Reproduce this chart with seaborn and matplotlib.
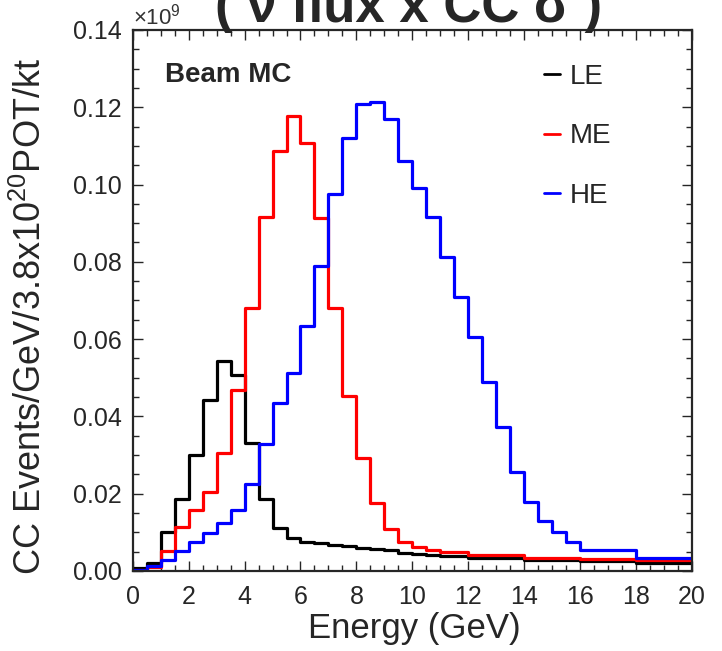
import numpy as np
import pandas as pd
import matplotlib
matplotlib.use("Agg")
import matplotlib.pyplot as plt
from matplotlib.ticker import MultipleLocator, FormatStrFormatter
from matplotlib.lines import Line2D
import seaborn as sns

# ---------------- data (values in units of 1e9) ----------------
le_edges = [0.0, 0.5, 1.0, 1.5, 2.0, 2.5, 3.0, 3.5, 4.0, 4.5, 5.0, 5.5, 6.0, 6.5,
            7.0, 7.5, 8.0, 8.5, 9.0, 9.5, 10.0, 10.5, 11.0, 12.0, 14.0, 16.0, 18.0, 20.0]
le_values = [0.0007, 0.0021, 0.0100, 0.0186, 0.0300, 0.0443, 0.0542, 0.0506, 0.0332,
             0.0186, 0.0112, 0.0085, 0.0076, 0.0072, 0.0067, 0.0065, 0.0059, 0.0058,
             0.0053, 0.0047, 0.0044, 0.0041, 0.0039, 0.0033, 0.0028, 0.0026, 0.0020]

me_edges = [0.0, 0.5, 1.0, 1.5, 2.0, 2.5, 3.0, 3.5, 4.0, 4.5, 5.0, 5.5, 6.0, 6.5,
            7.0, 7.5, 8.0, 8.5, 9.0, 9.5, 10.0, 10.5, 11.0, 12.0, 14.0, 16.0, 18.0, 20.0]
me_values = [0.0003, 0.0010, 0.0052, 0.0113, 0.0158, 0.0205, 0.0305, 0.0467, 0.0680,
             0.0917, 0.1087, 0.1178, 0.1107, 0.0913, 0.0680, 0.0452, 0.0292, 0.0176,
             0.0109, 0.0076, 0.0061, 0.0054, 0.0050, 0.0041, 0.0034, 0.0030, 0.0028]

he_edges = [0.0, 0.5, 1.0, 1.5, 2.0, 2.5, 3.0, 3.5, 4.0, 4.5, 5.0, 5.5, 6.0, 6.5,
            7.0, 7.5, 8.0, 8.5, 9.0, 9.5, 10.0, 10.5, 11.0, 11.5, 12.0, 12.5, 13.0,
            13.5, 14.0, 14.5, 15.0, 15.5, 16.0, 18.0, 20.0]
he_values = [0.0003, 0.0013, 0.0027, 0.0052, 0.0076, 0.0099, 0.0123, 0.0158, 0.0225,
             0.0329, 0.0434, 0.0513, 0.0633, 0.0788, 0.0975, 0.1121, 0.1208, 0.1213,
             0.1170, 0.1061, 0.0990, 0.0917, 0.0813, 0.0708, 0.0605, 0.0488, 0.0373,
             0.0257, 0.0179, 0.0130, 0.0102, 0.0076, 0.0054, 0.0033]

series_names = ["LE", "ME", "HE"]
series_colors = ["#000000", "#ff0000", "#0000ff"]
x_ticks = [0, 2, 4, 6, 8, 10, 12, 14, 16, 18, 20]
y_ticks = [0.00, 0.02, 0.04, 0.06, 0.08, 0.10, 0.12, 0.14]

# ---------------- style ----------------
sns.set_style("ticks")
plt.rcParams["font.family"] = ["Liberation Sans", "DejaVu Sans"]
plt.rcParams["mathtext.fontset"] = "custom"
plt.rcParams["mathtext.rm"] = "Liberation Sans"
plt.rcParams["mathtext.it"] = "Liberation Sans:italic"
plt.rcParams["mathtext.bf"] = "Liberation Sans:bold"

fig = plt.figure(figsize=(7.22, 6.51), dpi=100)
ax = fig.add_axes([0.184, 0.123, 0.774, 0.831])

all_edges = [le_edges, me_edges, he_edges]
all_values = [le_values, me_values, he_values]
for name, edges, vals, col in zip(series_names, all_edges, all_values, series_colors):
    e = np.asarray(edges)
    df = pd.DataFrame({"energy": (e[:-1] + e[1:]) / 2.0, "events": vals})
    sns.histplot(data=df, x="energy", weights="events", bins=edges,
                 element="step", fill=False, color=col, linewidth=2.3,
                 ax=ax)

ax.set_xlim(0, 20)
ax.set_ylim(0, 0.14)
ax.set_xticks(x_ticks)
ax.set_yticks(y_ticks)
ax.yaxis.set_major_formatter(FormatStrFormatter("%.2f"))
ax.xaxis.set_minor_locator(MultipleLocator(0.5))
ax.yaxis.set_minor_locator(MultipleLocator(0.005))
ax.tick_params(which="both", direction="in", top=True, right=True, width=1.0)
ax.tick_params(which="major", length=7, labelsize=18)
ax.tick_params(axis="x", which="major", pad=10)
ax.tick_params(axis="y", which="major", pad=8)
ax.tick_params(which="minor", length=4)
for sp in ax.spines.values():
    sp.set_linewidth(1.6)

ax.set_xlabel("Energy (GeV)", fontsize=25)
ax.set_ylabel(r"CC Events/GeV/3.8x10$^{20}$POT/kt", fontsize=26)
ax.xaxis.set_label_coords(0.504, -0.075)
ax.yaxis.set_label_coords(-0.15, 0.47)

ax.text(0.057, 0.917, "Beam MC", transform=ax.transAxes, fontsize=20,
        fontweight="bold", va="center", ha="left")

handles = [Line2D([], [], color=c, linewidth=2.0) for c in series_colors]
ax.legend(handles, series_names, loc="upper left", bbox_to_anchor=(0.735, 0.937),
          frameon=False, fontsize=20, handlelength=0.6, handletextpad=0.35,
          labelspacing=1.2, borderpad=0.0, borderaxespad=0.0)

fig.text(0.184, 0.962, r"$\times$10$^{9}$", fontsize=16, color="#333333",
         ha="left", va="baseline")
fig.text(0.566, 0.966, "( \u03bd flux x CC \u03c3 )", fontsize=38,
         fontweight="bold", ha="center", va="baseline")

fig.savefig("out.png", dpi=100)
